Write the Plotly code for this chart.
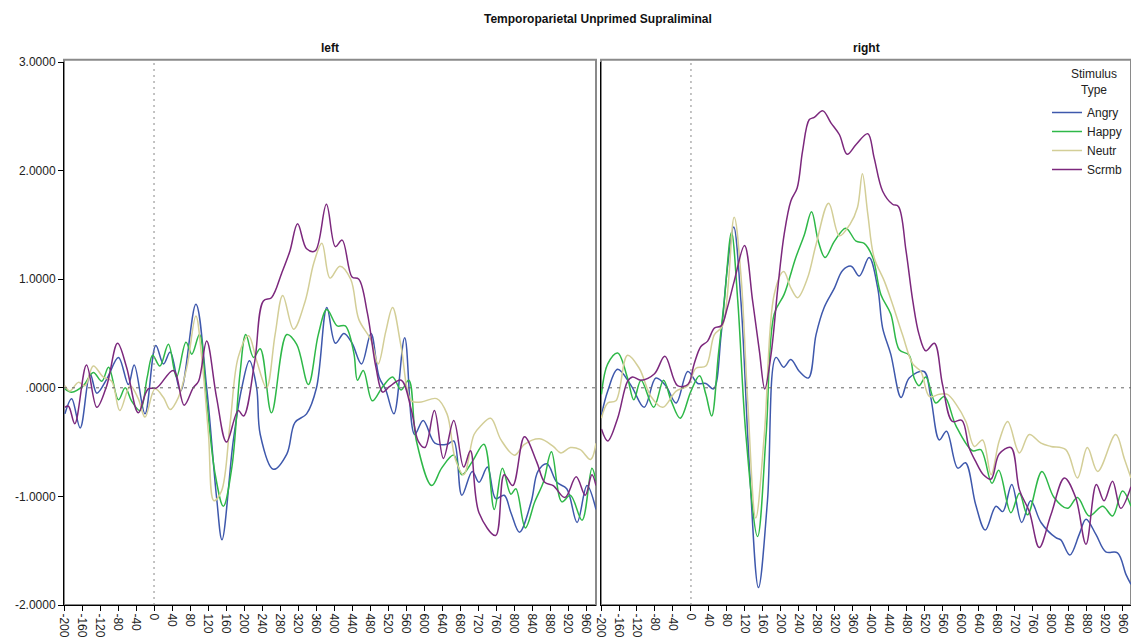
import plotly.graph_objects as go

# ERP waveforms (mean amplitude, microvolts) by stimulus type, per hemisphere.
# Each series is sampled at its turning points (time in ms, amplitude).

# ---- left hemisphere ----
left_angry_t = [-198, -183, -164, -142, -127, -105, -79, -57, -44, -20, 4, 21, 36, 59, 93, 117, 139, 151,
                176, 195, 212, 228, 236, 265, 295, 313, 339, 361, 384, 403, 422, 440, 461, 482, 500, 515,
                533, 557, 579, 598, 624, 651, 666, 684, 707, 722, 741, 759, 778, 793, 812, 838, 853, 873,
                895, 917, 940, 962, 982]
left_angry_v = [-0.24, -0.10, -0.37, 0.13, -0.05, 0.08, 0.28, 0.03, 0.21, -0.24, 0.39, 0.22, 0.33, -0.03,
                0.77, 0.00, -1.01, -1.40, -0.49, 0.00, 0.25, 0.00, -0.43, -0.75, -0.61, -0.32, -0.24, 0.00,
                0.74, 0.41, 0.50, 0.41, 0.22, 0.50, 0.10, -0.02, -0.24, 0.46, -0.43, -0.30, -0.51, -0.52,
                -0.49, -0.99, -0.77, -0.87, -0.73, -1.02, -0.99, -1.15, -1.33, -1.05, -0.77, -0.70, -0.87,
                -0.93, -1.24, -0.90, -1.12]

left_happy_t = [-198, -183, -157, -135, -116, -101, -79, -64, -50, -31, -15, -3, 13, 32, 50, 71, 84, 101,
                117, 136, 154, 173, 191, 204, 221, 236, 261, 295, 317, 343, 365, 384, 407, 425, 444, 452,
                465, 485, 508, 530, 549, 566, 583, 617, 639, 666, 684, 707, 733, 756, 774, 793, 804, 825,
                846, 865, 883, 906, 925, 951, 973, 982]
left_happy_v = [-0.01, -0.04, 0.02, 0.14, 0.06, 0.19, -0.11, 0.00, -0.12, -0.21, 0.10, 0.30, 0.20, 0.40,
                0.10, 0.42, 0.31, 0.49, -0.12, -0.80, -1.09, -0.73, 0.13, 0.49, 0.28, 0.36, -0.23, 0.49,
                0.40, 0.03, 0.49, 0.72, 0.57, 0.57, 0.32, 0.07, 0.16, -0.12, 0.01, 0.10, -0.02, 0.07,
                -0.49, -0.90, -0.74, -0.62, -0.80, -0.68, -0.52, -1.12, -0.74, -0.98, -0.93, -1.29, -1.05,
                -0.87, -0.59, -1.05, -0.99, -1.22, -0.74, -0.86]

left_neutr_t = [-198, -187, -168, -153, -135, -113, -94, -76, -53, -35, -20, 2, 21, 36, 54, 73, 93, 106,
                121, 133, 150, 169, 187, 210, 228, 250, 269, 286, 310, 336, 355, 373, 391, 413, 437, 455,
                482, 498, 515, 530, 549, 572, 594, 628, 651, 669, 688, 711, 726, 748, 771, 801, 823, 857,
                887, 904, 925, 947, 970, 982]
left_neutr_v = [0.02, -0.03, 0.05, 0.02, 0.20, 0.10, 0.06, -0.21, 0.02, -0.10, -0.27, -0.01, -0.09, -0.20,
                -0.09, 0.19, 0.66, 0.28, -0.43, -1.04, -0.95, -0.33, 0.28, 0.48, 0.25, 0.00, 0.49, 0.85,
                0.54, 0.80, 1.15, 1.33, 1.01, 1.12, 1.00, 0.63, 0.44, 0.22, 0.52, 0.74, 0.38, -0.12,
                -0.13, -0.10, -0.24, -0.65, -0.80, -0.43, -0.35, -0.28, -0.48, -0.62, -0.52, -0.47, -0.54,
                -0.60, -0.55, -0.57, -0.66, -0.51]

left_scrmb_t = [-198, -190, -176, -150, -127, -105, -81, -61, -35, -13, 6, 43, 67, 87, 99, 117, 139, 161,
                187, 199, 224, 243, 261, 284, 302, 319, 339, 358, 383, 403, 418, 440, 455, 474, 493, 508,
                523, 549, 572, 587, 602, 623, 643, 666, 688, 703, 722, 759, 778, 797, 823, 850, 868, 887,
                913, 938, 958, 973, 982]
left_scrmb_v = [-0.18, -0.17, -0.33, 0.21, -0.18, 0.02, 0.41, 0.19, -0.23, -0.01, 0.00, 0.16, -0.16, 0.00,
                0.06, 0.43, -0.09, -0.50, -0.21, -0.26, 0.25, 0.80, 0.83, 1.06, 1.26, 1.51, 1.28, 1.26,
                1.69, 1.30, 1.36, 1.02, 1.00, 0.69, 0.19, -0.04, 0.01, 0.07, -0.21, -0.49, -0.55, -0.21,
                -0.65, -0.30, -0.73, -0.58, -1.15, -1.36, -0.80, -0.90, -0.45, -0.68, -0.87, -0.90, -1.01,
                -0.82, -0.99, -0.80, -0.90]

# ---- right hemisphere ----
right_angry_t = [-199, -185, -163, -133, -104, -78, -56, -33, -7, 15, 33, 50, 67, 81, 95, 111, 130, 150,
                 170, 189, 206, 222, 241, 261, 278, 296, 319, 337, 356, 374, 396, 415, 426, 444, 467, 485,
                 518, 533, 552, 568, 593, 610, 633, 654, 678, 693, 713, 735, 755, 778, 811, 822, 842, 863,
                 878, 900, 922, 948, 967, 978]
right_angry_v = [-0.25, -0.03, 0.17, 0.02, -0.18, 0.09, 0.02, -0.14, 0.15, 0.04, 0.04, -0.01, 0.49, 1.11,
                 1.48, 0.80, -0.74, -1.84, -1.04, 0.28, 0.19, 0.26, 0.15, 0.09, 0.49, 0.74, 0.92, 1.08,
                 1.12, 1.03, 1.20, 0.92, 0.55, 0.31, -0.09, 0.09, 0.15, -0.09, -0.48, -0.40, -0.74, -0.69,
                 -1.08, -1.31, -1.09, -1.14, -0.89, -1.24, -1.04, -1.24, -1.38, -1.40, -1.54, -1.35,
                 -1.21, -1.35, -1.51, -1.52, -1.72, -1.81]

right_happy_t = [-199, -185, -163, -141, -127, -111, -83, -61, -44, -24, 0, 19, 33, 46, 61, 74, 90, 104,
                 122, 148, 167, 185, 207, 233, 252, 268, 283, 298, 319, 344, 367, 385, 404, 422, 444, 463,
                 485, 496, 507, 522, 544, 563, 589, 626, 644, 669, 684, 711, 730, 748, 780, 807, 837, 859,
                 885, 915, 937, 959, 978]
right_happy_v = [-0.06, 0.22, 0.32, 0.09, -0.11, 0.07, -0.18, 0.07, -0.12, -0.28, -0.03, 0.11, -0.06,
                 -0.26, 0.31, 0.80, 1.43, 0.80, -0.43, -1.37, -0.43, 0.68, 0.86, 1.20, 1.41, 1.62, 1.35,
                 1.20, 1.35, 1.47, 1.35, 1.33, 1.20, 0.86, 0.68, 0.35, 0.30, 0.09, 0.02, 0.10, -0.14,
                 -0.08, -0.35, -0.58, -0.57, -0.88, -0.76, -1.15, -0.97, -1.17, -0.77, -1.01, -1.11,
                 -1.01, -1.18, -1.09, -1.18, -0.95, -1.09]

right_neutr_t = [-199, -185, -167, -141, -115, -89, -63, -33, -7, 11, 33, 52, 70, 96, 111, 126, 144, 163,
                 185, 206, 222, 237, 259, 278, 306, 330, 354, 370, 381, 393, 407, 430, 448, 470, 493, 511,
                 530, 552, 570, 589, 611, 630, 648, 667, 685, 704, 730, 752, 778, 800, 833, 859, 881, 904,
                 944, 963, 978]
right_neutr_v = [-0.28, -0.14, -0.12, 0.30, 0.18, -0.08, -0.18, -0.03, 0.02, 0.18, 0.20, 0.49, 0.57, 1.57,
                 1.04, -0.12, -1.20, -0.43, 0.86, 1.07, 0.92, 0.83, 1.01, 1.32, 1.70, 1.40, 1.51, 1.66,
                 1.97, 1.60, 1.20, 0.98, 0.77, 0.49, 0.22, 0.15, -0.08, -0.06, -0.06, -0.15, -0.31, -0.54,
                 -0.48, -0.80, -0.49, -0.31, -0.60, -0.43, -0.51, -0.54, -0.57, -0.83, -0.55, -0.77, -0.43,
                 -0.65, -0.83]

right_scrmb_t = [-199, -185, -163, -141, -130, -111, -81, -58, -30, -7, 7, 22, 37, 52, 67, 81, 96, 119,
                 137, 152, 164, 178, 193, 207, 222, 236, 248, 263, 274, 293, 311, 330, 347, 367, 393, 407,
                 426, 448, 461, 478, 493, 507, 522, 541, 559, 581, 602, 618, 633, 650, 667, 685, 711, 730,
                 752, 774, 800, 830, 855, 878, 901, 918, 937, 955, 978]
right_scrmb_v = [-0.38, -0.49, -0.28, 0.06, 0.10, 0.07, 0.13, 0.29, 0.02, 0.03, 0.22, 0.38, 0.43, 0.55,
                 0.57, 0.74, 0.98, 1.31, 0.80, 0.34, -0.01, 0.31, 0.92, 1.41, 1.72, 1.84, 2.18, 2.47,
                 2.49, 2.55, 2.44, 2.33, 2.15, 2.24, 2.34, 2.12, 1.81, 1.69, 1.67, 1.26, 0.80, 0.49, 0.34,
                 0.41, 0.03, -0.31, -0.30, -0.55, -0.68, -0.80, -0.84, -0.61, -0.55, -0.94, -1.14, -1.47,
                 -1.17, -0.83, -1.01, -1.44, -0.89, -1.04, -0.86, -1.11, -0.91]

series_names = ["Angry", "Happy", "Neutr", "Scrmb"]
series_colors = ["#3E58AC", "#2EB848", "#D3CE97", "#7C287D"]

left_data = [(left_angry_t, left_angry_v), (left_happy_t, left_happy_v),
             (left_neutr_t, left_neutr_v), (left_scrmb_t, left_scrmb_v)]
right_data = [(right_angry_t, right_angry_v), (right_happy_t, right_happy_v),
              (right_neutr_t, right_neutr_v), (right_scrmb_t, right_scrmb_v)]

x_ticks = list(range(-200, 961, 40))
x_tick_text = [str(v) for v in x_ticks]
y_ticks = [-2, -1, 0, 1, 2, 3]
y_tick_text = ["-2.0000", "-1.0000", ".0000", "1.0000", "2.0000", "3.0000"]

FONT = "Liberation Sans, Arial, sans-serif"

fig = go.Figure()
for i, name in enumerate(series_names):
    t, v = left_data[i]
    fig.add_trace(go.Scatter(x=t, y=v, mode="lines", name=name, legendgroup=name,
                             line=dict(color=series_colors[i], width=1.5, shape="spline", smoothing=1.0),
                             xaxis="x", yaxis="y", showlegend=True))
for i, name in enumerate(series_names):
    t, v = right_data[i]
    fig.add_trace(go.Scatter(x=t, y=v, mode="lines", name=name, legendgroup=name,
                             line=dict(color=series_colors[i], width=1.5, shape="spline", smoothing=1.0),
                             xaxis="x2", yaxis="y2", showlegend=False))

W, H = 1131, 641
ML, MR, MT, MB = 64, 0, 62, 36
pw = W - ML - MR
ph = H - MT - MB

axis_common = dict(showgrid=False, zeroline=False, showline=True, linecolor="#000000", linewidth=1,
                   ticks="outside", ticklen=5, tickcolor="#000000",
                   tickfont=dict(family=FONT, size=12, color="#222222"))

fig.update_layout(
    width=W, height=H,
    margin=dict(l=ML, r=MR, t=MT, b=MB),
    paper_bgcolor="white", plot_bgcolor="white",
    font=dict(family=FONT, size=12, color="#222222"),
    xaxis=dict(domain=[0, 532 / pw], range=[-200, 982], tickvals=x_ticks, ticktext=x_tick_text,
               tickangle=90, **axis_common),
    xaxis2=dict(domain=[537 / pw, 1.0], range=[-200, 978], tickvals=x_ticks, ticktext=x_tick_text,
                tickangle=90, anchor="y2", **axis_common),
    yaxis=dict(domain=[0, 1], range=[-2, 3], tickvals=y_ticks, ticktext=y_tick_text, anchor="x",
               **axis_common),
    yaxis2=dict(domain=[0, 1], range=[-2, 3], tickvals=y_ticks, showticklabels=False, anchor="x2",
                showgrid=False, zeroline=False, showline=True, linecolor="#000000", linewidth=1,
                ticks=""),
    legend=dict(x=(1047 - ML) / pw, y=(H - MB - 98) / ph, xanchor="left", yanchor="top",
                bgcolor="rgba(0,0,0,0)", font=dict(family=FONT, size=12, color="#222222"),
                tracegroupgap=0, itemwidth=30),
)

shapes = []
for xr, yr in (("x", "y"), ("x2", "y2")):
    # panel frame
    shapes.append(dict(type="rect", xref=f"{xr} domain", yref=f"{yr} domain", x0=0, x1=1, y0=0, y1=1.004,
                       line=dict(color="#8a8a8a", width=2), layer="below"))
    # reference lines at amplitude 0 and stimulus onset
    shapes.append(dict(type="line", xref=f"{xr} domain", yref=yr, x0=0, x1=1, y0=0, y1=0,
                       line=dict(color="#666666", width=1, dash="3px,5px")))
    shapes.append(dict(type="line", xref=xr, yref=f"{yr} domain", x0=0, x1=0, y0=0, y1=1,
                       line=dict(color="#888888", width=1, dash="2px,4px")))

annotations = [
    dict(text="<b>Temporoparietal Unprimed Supraliminal</b>", xref="paper", yref="paper",
         x=0.5, y=(H - MB - 19) / ph, xanchor="center", yanchor="middle", showarrow=False,
         font=dict(family=FONT, size=12, color="#111111")),
    dict(text="<b>left</b>", xref="x domain", yref="paper", x=0.5, y=(H - MB - 48) / ph,
         xanchor="center", yanchor="middle", showarrow=False,
         font=dict(family=FONT, size=12, color="#111111")),
    dict(text="<b>right</b>", xref="x2 domain", yref="paper", x=0.5, y=(H - MB - 48) / ph,
         xanchor="center", yanchor="middle", showarrow=False,
         font=dict(family=FONT, size=12, color="#111111")),
    # legend heading
    dict(text="Stimulus<br>Type", xref="paper", yref="paper", x=(1094 - ML) / pw, y=(H - MB - 82) / ph,
         xanchor="center", yanchor="middle", align="center", showarrow=False,
         font=dict(family=FONT, size=12, color="#222222")),
]

fig.update_layout(shapes=shapes, annotations=annotations)

fig.write_html("out.html")
